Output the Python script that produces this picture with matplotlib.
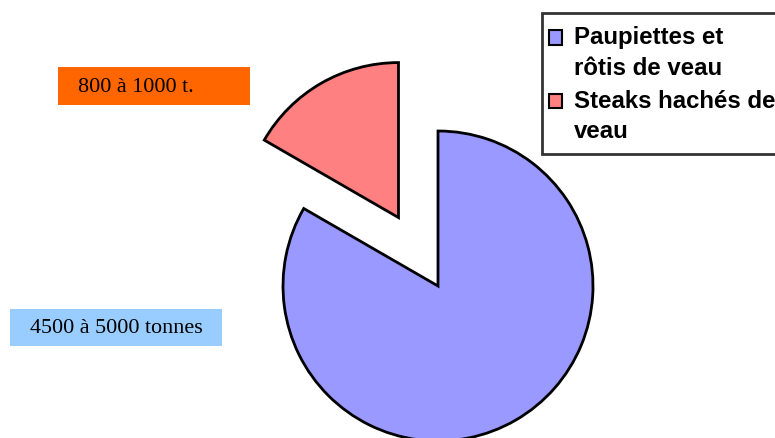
import matplotlib
matplotlib.use("Agg")
import matplotlib.pyplot as plt
from matplotlib.patches import Rectangle
from matplotlib.legend_handler import HandlerPatch

categories = ["Paupiettes et\nrôtis de veau", "Steaks hachés de\nveau"]
values = [4750, 950]
value_labels = ["4500 à 5000 tonnes", "800 à 1000 t."]
colors = ["#9999FF", "#FF8080"]
label_colors = ["#99CCFF", "#FF6600"]

W, H = 775, 439
fig = plt.figure(figsize=(W / 100, H / 100), dpi=100)
ax = fig.add_axes([0, 0, 1, 1])

RADIUS = 155
wedges, _ = ax.pie(values, colors=colors, startangle=90, counterclock=False,
                   explode=[0, 79], center=(438, H - 287), radius=RADIUS,
                   wedgeprops=dict(edgecolor="black", linewidth=2),
                   frame=True)
ax.set_xlim(0, W)
ax.set_ylim(0, H)
ax.set_aspect("equal")
ax.axis("off")

# label boxes (x0, ytop, w, h) in pixels
boxes = [(10, 310, 212, 37), (58, 68, 192, 38)]
for (x0, yt, w, h), txt, c in zip(boxes, value_labels, label_colors):
    ax.add_patch(Rectangle((x0, H - yt - h), w, h, facecolor=c, edgecolor="none", zorder=5))
    ax.text(x0 + 20, H - yt - h / 2, txt, ha="left", va="center",
            fontsize=15.9, family="Liberation Serif", color="black", zorder=6)

FS = 17.3


def top_patch(legend, orig_handle, xdescent, ydescent, width, height, fontsize):
    return Rectangle((-xdescent - 3.6, -ydescent + 0.62 * fontsize), width, height)


leg = fig.legend(wedges, categories, loc="upper left",
                 bbox_to_anchor=(542 / W, 1 - 14 / H),
                 prop=dict(family="Liberation Sans", weight="bold", size=FS),
                 frameon=True, fancybox=False, edgecolor="black",
                 handlelength=0.55, handleheight=0.55, handletextpad=0.29,
                 borderpad=0.5, labelspacing=0.42, borderaxespad=0,
                 handler_map={type(wedges[0]): HandlerPatch(patch_func=top_patch)})
leg.get_frame().set_linewidth(2)
for t in leg.get_texts():
    t.set_linespacing(1.42)
for h in leg.legend_handles:
    h.set_edgecolor("black")
    h.set_linewidth(1.5)

fig.savefig("out.png", dpi=100)
